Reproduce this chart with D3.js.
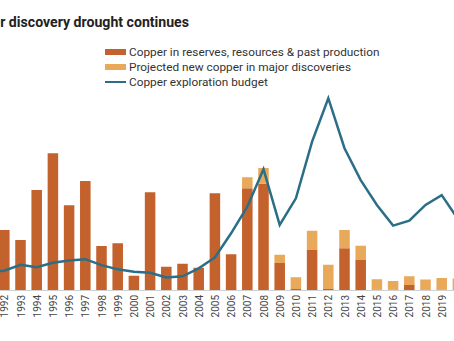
<!DOCTYPE html>
<html>
<head>
<meta charset="utf-8">
<script src="https://cdn.jsdelivr.net/npm/d3@7"></script>
<style>
  body { margin: 0; background: #fff; }
  svg { display: block; font-family: Roboto, "Open Sans", sans-serif; }
</style>
</head>
<body>
<svg id="chart" width="454" height="341"></svg>
<script>
// years shown (1991 sits just off the left edge, 2020 just off the right)
const years = [1991, 1992, 1993, 1994, 1995, 1996, 1997, 1998, 1999, 2000,
    2001, 2002, 2003, 2004, 2005, 2006, 2007, 2008, 2009, 2010,
    2011, 2012, 2013, 2014, 2015, 2016, 2017, 2018, 2019, 2020];

// tick labels that are visible in the cropped picture
const tickYears = years.filter(y => y >= 1992 && y <= 2019);

// copper in reserves, resources & past production (Mt)
const reserves = [20, 24, 20, 40, 54.7, 33.9, 43.6, 17.6, 18.7, 5.7,
    39.1, 9.3, 10.5, 8.9, 38.7, 14.3, 40.7, 42.5, 10.8, 0.4,
    16, 0.4, 16.7, 12, 0.2, 0.2, 2, 0.2, 0.2, 0.2];

// projected new copper in major discoveries (Mt)
const projected = [0, 0, 0, 0, 0, 0, 0, 0, 0, 0,
    0, 0, 0, 0, 0, 0, 4.4, 6.3, 3.3, 4.7,
    7.7, 9.7, 7.3, 5.7, 4.1, 3.4, 3.5, 4.0, 4.6, 4.4];

// copper exploration budget (US$ bn)
const budget = [0.53, 0.55, 0.72, 0.65, 0.78, 0.84, 0.88, 0.71, 0.59, 0.52,
    0.49, 0.36, 0.39, 0.62, 0.93, 1.62, 2.38, 3.45, 1.86, 2.62,
    4.24, 5.48, 4.05, 3.14, 2.43, 1.84, 1.98, 2.43, 2.71, 2.03];

const legendItems = [
    { label: "Copper in reserves, resources & past production", type: "bar", color: "#c4622e" },
    { label: "Projected new copper in major discoveries", type: "bar", color: "#e8a95a" },
    { label: "Copper exploration budget", type: "line", color: "#2b6e87" }
];

const svg = d3.select("#chart"),
    baseY = 290;

const x = d3.scalePoint().domain(years).range([-11.9, 457.9]),
    barW = x.step() * 0.65;

const yBar = d3.scaleLinear().domain([0, 70]).range([baseY, baseY - 175]),
    yLine = d3.scaleLinear().domain([0, 5]).range([baseY, baseY - 175]);

// title (left part cropped in the original): size it so that
// "r discovery drought continues" spans the first 189px
const title = svg.append("text")
    .attr("x", 189)
    .attr("y", 27)
    .attr("text-anchor", "end")
    .style("font-size", "15px")
    .style("font-weight", "700")
    .style("fill", "#222")
    .text("r discovery drought continues");
const fs = 15 * 189 / title.node().getComputedTextLength();
title.style("font-size", fs + "px").text("Copper discovery drought continues");

// legend
const legend = svg.append("g").attr("transform", "translate(105,52)");
legendItems.forEach(function (d, i) {
    const row = legend.append("g").attr("transform", "translate(0," + i * 15 + ")");
    if (d.type == "bar") {
        row.append("rect").attr("x", 0).attr("y", -3).attr("width", 21).attr("height", 6).attr("fill", d.color);
    } else {
        row.append("line").attr("x1", 0).attr("x2", 21).attr("y1", 0).attr("y2", 0)
            .attr("stroke", d.color).attr("stroke-width", 2);
    }
    row.append("text")
        .attr("x", 24)
        .attr("y", 4)
        .style("font-size", "11.8px")
        .style("fill", "#333")
        .text(d.label);
});

const data = years.map(function (yr, i) {
    return { year: yr, reserves: reserves[i], projected: projected[i], budget: budget[i] };
});

// stacked bars
const bars = svg.append("g");
bars.selectAll(".res")
    .data(data)
    .join("rect")
    .attr("class", "res")
    .attr("x", d => x(d.year) - barW / 2)
    .attr("width", barW)
    .attr("y", d => yBar(d.reserves))
    .attr("height", d => baseY - yBar(d.reserves))
    .attr("fill", legendItems[0].color);

bars.selectAll(".proj")
    .data(data.filter(d => d.projected > 0))
    .join("rect")
    .attr("class", "proj")
    .attr("x", d => x(d.year) - barW / 2)
    .attr("width", barW)
    .attr("y", d => yBar(d.reserves + d.projected))
    .attr("height", d => yBar(d.reserves) - yBar(d.reserves + d.projected))
    .attr("fill", legendItems[1].color);

// x axis
const xAxis = svg.append("g")
    .attr("transform", "translate(0," + baseY + ")")
    .call(d3.axisBottom(x).tickValues(tickYears).tickSize(0).tickPadding(0));
xAxis.select(".domain").attr("stroke", "#d0d0d0").attr("d", "M0,0.5H454");
xAxis.selectAll("text")
    .attr("transform", "rotate(-90)")
    .attr("x", -5)
    .attr("y", 0)
    .attr("dy", "0.35em")
    .attr("text-anchor", "end")
    .style("font-size", "10px")
    .style("font-family", "Roboto, sans-serif")
    .style("fill", "#444");

// budget line
const line = d3.line()
    .x(d => x(d.year))
    .y(d => yLine(d.budget));

svg.append("path")
    .datum(data)
    .attr("d", line)
    .attr("fill", "none")
    .attr("stroke", legendItems[2].color)
    .attr("stroke-width", 2.5)
    .attr("stroke-linejoin", "miter");
</script>
</body>
</html>
